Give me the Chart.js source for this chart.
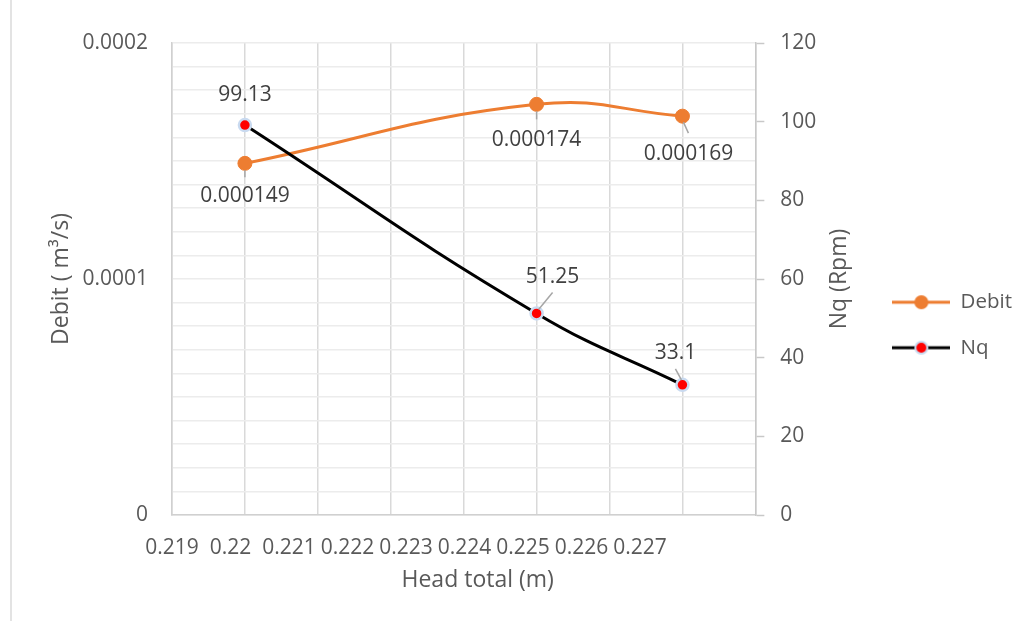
<!DOCTYPE html>
<html>
<head>
<meta charset="utf-8">
<script src="https://cdn.jsdelivr.net/npm/chart.js@4.4.1/dist/chart.umd.min.js"></script>
<style>
  html, body { margin: 0; padding: 0; background: #fff; }
  #wrap { position: relative; width: 1026px; height: 621px; }
  #wrap::before { content: ""; position: absolute; left: 10px; top: 0; bottom: 0; border-left: 2px solid #e3e3e3; }
  canvas { position: absolute; left: 0; top: 0; }
</style>
</head>
<body>
<div id="wrap"><canvas id="chart" width="1026" height="621"></canvas></div>
<script>
const headTotal = [0.22, 0.224, 0.226];
const debitValues = [0.000149, 0.000174, 0.000169];
const nqValues = [99.13, 51.25, 33.1];
const headTicks = [0.219, 0.22, 0.221, 0.222, 0.223, 0.224, 0.225, 0.226, 0.227];
const debitTicks = [0, 0.0001, 0.0002];
const nqTicks = [0, 20, 40, 60, 80, 100, 120];

// where each value label sits relative to its point (px), with optional leader line
const debitLabelPlace = [
  { dx: 0, dy: 33, leader: [0, 7, 0, 14] },
  { dx: 0, dy: 36, leader: [0, 7, 0, 15] },
  { dx: 6, dy: 38, leader: [1, 6, 6, 17] },
];
const nqLabelPlace = [
  { dx: 0, dy: -30, leader: null },
  { dx: 16, dy: -36, leader: [2, -4, 16, -21] },
  { dx: -7, dy: -32, leader: [-1, -5, -7, -16] },
];

const FONT = "'Open Sans', sans-serif";
const TEXT = "#595959";
const ORANGE = "#ED7D31";

Chart.defaults.font.family = FONT;
Chart.defaults.color = TEXT;

function legendIcon(color, fill, ring) {
  const c = document.createElement("canvas");
  c.width = 58;
  c.height = 18;
  const g = c.getContext("2d");
  g.strokeStyle = color;
  g.lineWidth = 3;
  g.beginPath();
  g.moveTo(0, 9);
  g.lineTo(58, 9);
  g.stroke();
  g.beginPath();
  g.arc(29, 9, ring ? 6 : 7, 0, Math.PI * 2);
  g.fillStyle = fill;
  g.fill();
  if (ring) {
    g.lineWidth = 2;
    g.strokeStyle = ring;
    g.stroke();
  }
  return c;
}

const debitIcon = legendIcon(ORANGE, ORANGE);
const nqIcon = legendIcon("#000", "#ff0000", "#c9daf0");

const pointLabels = {
  id: "pointLabels",
  afterDatasetsDraw(chart) {
    const ctx = chart.ctx;
    chart.data.datasets.forEach((ds, i) => {
      const meta = chart.getDatasetMeta(i);
      meta.data.forEach((pt, j) => {
        const place = ds.labelPlace[j];
        ctx.save();
        if (place.leader) {
          const [x1, y1, x2, y2] = place.leader;
          ctx.strokeStyle = "#a6a6a6";
          ctx.lineWidth = 1.5;
          ctx.beginPath();
          ctx.moveTo(pt.x + x1, pt.y + y1);
          ctx.lineTo(pt.x + x2, pt.y + y2);
          ctx.stroke();
        }
        ctx.fillStyle = "#404040";
        ctx.font = "21px " + FONT;
        ctx.textAlign = "center";
        ctx.textBaseline = "middle";
        ctx.fillText(String(ds.labelValues[j]), pt.x + place.dx, pt.y + place.dy);
        ctx.restore();
      });
    });
  },
};

// axis titles that chart.js can't place like the original:
// right one reads bottom-to-top, bottom one sits a bit right of centre
const axisTitles = {
  id: "axisTitles",
  afterDraw(chart) {
    const ctx = chart.ctx;
    const s = chart.scales.y1;
    const b = chart.scales.xLabels;
    ctx.save();
    ctx.fillStyle = TEXT;
    ctx.font = "23px " + FONT;
    ctx.textAlign = "center";
    ctx.textBaseline = "middle";
    ctx.fillText("Head total (m)", (b.left + b.right) / 2 + 14, b.bottom - 27);
    ctx.translate(s.right - 28, (s.top + s.bottom) / 2);
    ctx.rotate(-Math.PI / 2);
    ctx.fillText("Nq (Rpm)", 0, 0);
    ctx.restore();
  },
};

const useTicks = (list) => (scale) => {
  scale.ticks = list.map((v) => ({ value: v }));
};

new Chart(document.getElementById("chart").getContext("2d"), {
  type: "line",
  data: {
    datasets: [
      {
        label: "Debit",
        data: headTotal.map((x, i) => ({ x: x, y: debitValues[i] })),
        xAxisID: "x",
        yAxisID: "y",
        order: 2,
        borderColor: ORANGE,
        borderWidth: 3,
        pointRadius: 7,
        pointBackgroundColor: ORANGE,
        pointBorderColor: ORANGE,
        pointBorderWidth: 1,
        tension: 0.45,
        labelValues: debitValues,
        labelPlace: debitLabelPlace,
      },
      {
        label: "Nq",
        data: headTotal.map((x, i) => ({ x: x, y: nqValues[i] })),
        xAxisID: "x",
        yAxisID: "y1",
        order: 1,
        borderColor: "#000",
        borderWidth: 3,
        pointRadius: 6,
        pointBackgroundColor: "#ff0000",
        pointBorderColor: "#c9daf0",
        pointBorderWidth: 2.5,
        tension: 0.45,
        labelValues: nqValues,
        labelPlace: nqLabelPlace,
      },
    ],
  },
  options: {
    responsive: false,
    animation: false,
    layout: { padding: { top: 43, left: 20, right: 4, bottom: 14 } },
    scales: {
      x: {
        type: "linear",
        axis: "x",
        position: "bottom",
        weight: 0,
        min: headTicks[0],
        max: headTicks[headTicks.length - 1],
        afterBuildTicks: useTicks(headTicks),
        afterFit: (s) => { s.height = 0; },
        ticks: { display: false },
        grid: { color: "#d9d9d9", lineWidth: 1.5, drawTicks: false },
        border: { color: "#d0d0d0", width: 1.5 },
      },
      xLabels: {
        type: "linear",
        axis: "x",
        position: "bottom",
        weight: 1,
        min: headTicks[0],
        max: 0.22897,
        afterBuildTicks: useTicks(headTicks),
        afterFit: (s) => { s.height = 92; },
        ticks: {
          padding: 20,
          autoSkip: false,
          maxRotation: 0,
          font: { size: 21 },
          callback: (v) => String(+v.toFixed(3)),
        },
        grid: { display: false, drawTicks: false },
        border: { display: false },
      },
      y: {
        type: "linear",
        position: "left",
        min: 0,
        max: 0.0002,
        afterFit: (s) => { s.width = 152; },
        ticks: {
          stepSize: 0.00001,
          maxTicksLimit: 100,
          autoSkip: false,
          padding: 24,
          font: { size: 21 },
          callback: (v) => {
            const hit = debitTicks.find((t) => Math.abs(t - v) < 1e-9);
            if (hit === undefined) return "";
            return hit === 0 ? "0" : hit.toFixed(4);
          },
        },
        grid: { color: "#ececec", lineWidth: 1.5, drawTicks: false },
        border: { color: "#d0d0d0", width: 1.5 },
        title: {
          display: true,
          text: "Debit ( m³/s)",
          font: { size: 23 },
          padding: { top: 28, bottom: 7 },
        },
      },
      y1: {
        type: "linear",
        position: "right",
        min: 0,
        max: 120,
        afterBuildTicks: useTicks(nqTicks),
        afterFit: (s) => { s.width = 112; },
        ticks: { padding: 16, font: { size: 21 } },
        grid: {
          drawOnChartArea: false,
          drawTicks: true,
          tickLength: 9,
          tickColor: "#c8c8c8",
          tickWidth: 1.5,
        },
        border: { color: "#c8c8c8", width: 1.5 },
      },
    },
    plugins: {
      tooltip: { enabled: false },
      legend: {
        position: "right",
        labels: {
          usePointStyle: true,
          pointStyleWidth: 58,
          padding: 25,
          color: TEXT,
          font: { size: 20.5 },
          generateLabels: () => [
            { text: "Debit", pointStyle: debitIcon, fontColor: TEXT, lineWidth: 0, strokeStyle: "rgba(0,0,0,0)", fillStyle: "rgba(0,0,0,0)", datasetIndex: 0, hidden: false },
            { text: "Nq", pointStyle: nqIcon, fontColor: TEXT, lineWidth: 0, strokeStyle: "rgba(0,0,0,0)", fillStyle: "rgba(0,0,0,0)", datasetIndex: 1, hidden: false },
          ],
        },
      },
    },
  },
  plugins: [pointLabels, axisTitles],
});
</script>
</body>
</html>
